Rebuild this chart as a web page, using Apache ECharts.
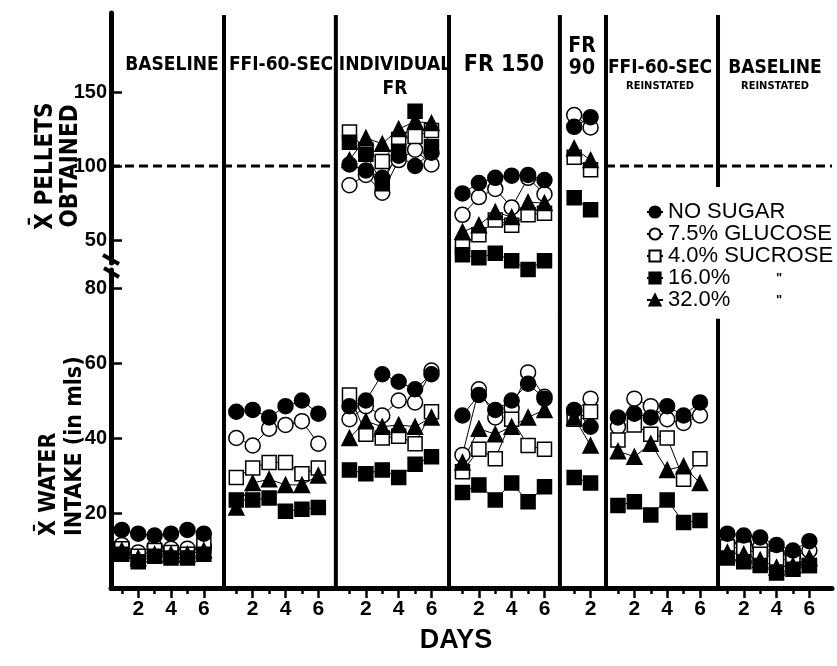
<!DOCTYPE html>
<html>
<head>
<meta charset="utf-8">
<script src="https://cdn.jsdelivr.net/npm/echarts@6/dist/echarts.min.js"></script>
<style>
html,body{margin:0;padding:0;background:#fff}
#main{width:837px;height:666px}
</style>
</head>
<body>
<div id="main"></div>
<script>
// ---- data ----
var seriesNames = ['NO SUGAR', '7.5% GLUCOSE', '4.0% SUCROSE', '16.0% SUCROSE', '32.0% SUCROSE'];
var phaseDays = [6, 6, 6, 6, 2, 6, 6];
var yTicksPellets = [50, 100, 150];
var yTicksWater = [20, 40, 60, 80];
var criterionPellets = 100;

// water intake (mls), one list per phase
var waterNoSugar = [[15.5,14.5,14,14.5,15.5,14.5],[47,47.5,45.5,48.5,50,46.5],[48.5,50,57,55,53,57],[46,51.5,47.5,50,54.5,50.5],[47.5,43],[45.5,46.5,45.5,48.5,46,49.5],[14.5,14,13.5,11.5,10,12.5]];
var waterGlucose = [[11.5,9.5,11,10.5,10.5,11],[40,38,42.5,43.5,44.5,38.5],[45,48.5,46,50,49.5,58],[35.5,53,45.5,48,57.5,51],[47,50.5],[43,50.5,48.5,45,44,46],[12,12,11,9.5,8.5,10]];
var waterSucrose4 = [[10.5,8.5,10,9.5,9,11.5],[29.5,32,33.5,33.5,30.5,32],[51.5,41,40,40.5,38.5,47],[31,37,34.5,45,38,37],[45,47],[39.5,43.5,41,40,29,34.5],[11,10.5,9,8,7,6]];
var waterSucrose16 = [[9,7,8.5,8,8,9],[23.5,23.5,24,20.5,21,21.5],[31.5,30.5,31.5,29.5,33,35],[25.5,27.5,23.5,28,23,27],[29.5,28],[22,23,19.5,23.5,17.5,18],[8,7,6,4,5,6]];
var waterSucrose32 = [[10,8,9,9,9,10],[21.5,28,29,27.5,27.5,30],[40,44.5,43,43.5,43,45.5],[33.5,42.5,41,43,45.5,47.5],[45.5,38],[36.5,35,38.5,31.5,32.5,28],[9.5,9,7.5,5.5,6,8]];

// pellets obtained, only the FR phases
var pelletsNoSugar = [null,null,[101,97,92,107,100,109],[81.5,88.5,92,93.5,94,90.5],[126.5,133],null,null];
var pelletsGlucose = [null,null,[87,94,82,104,111,101],[67,79,84.5,72,92,81],[134.5,126],null,null];
var pelletsSucrose4 = [null,null,[123,111,103,118,120,124],[45.5,53.5,63.5,60,67,68],[106,97.5],null,null];
var pelletsSucrose16 = [null,null,[116,108,88,110,137,113],[40,38,41,36,30,36],[78.5,70.5],null,null];
var pelletsSucrose32 = [null,null,[104,119,115,125,130,129],[55.5,60,69,65.5,75.5,75],[112,104],null,null];

// ---- layout (day units along x) ----
var phaseStart = [0, 6.98, 13.88, 20.77, 27.58, 30.25, 36.92];
var phaseEdge = [7.23, 14.05, 20.95, 27.71, 30.52, 37.35];
var X_MIN = 0.34, X_MAX = 44.3;
var legendGap = [0.47, 0.70];

var FONT = 'Liberation Sans, Arial, sans-serif';
var NARROW = 'Liberation Sans Narrow, DejaVu Sans Condensed, Liberation Sans, sans-serif';

function buildSeriesData(list){
    var out = [];
    for (var p = 0; p < list.length; p++) {
        if (!list[p]) continue;
        for (var d = 0; d < list[p].length; d++) {
            out.push([phaseStart[p] + d + 1, list[p][d]]);
        }
        out.push([phaseStart[p] + 7, null]);   // break line between phases
    }
    return out;
}

var evenTicks = [], oddTicks = [];
for (var p = 0; p < phaseDays.length; p++) {
    for (var d = 1; d <= phaseDays[p]; d++) {
        (d % 2 == 0 ? evenTicks : oddTicks).push(phaseStart[p] + d);
    }
}
function dayOf(v){
    for (var p = phaseStart.length - 1; p >= 0; p--) {
        if (v > phaseStart[p]) return Math.round(v - phaseStart[p]);
    }
    return '';
}

var styles = [
    {symbol:'circle', size:15, color:'#000'},
    {symbol:'circle', size:15, color:'#fff'},
    {symbol:'rect', size:14, color:'#fff'},
    {symbol:'rect', size:14, color:'#000'},
    {symbol:'triangle', size:15, color:'#000'}
];
var water = [waterNoSugar, waterGlucose, waterSucrose4, waterSucrose16, waterSucrose32];
var pellets = [pelletsNoSugar, pelletsGlucose, pelletsSucrose4, pelletsSucrose16, pelletsSucrose32];
var drawOrder = [1, 2, 4, 3, 0];

var series = [];
drawOrder.forEach(function(i){
    [[pellets[i], 0], [water[i], 1]].forEach(function(s){
        series.push({
            name: seriesNames[i],
            type: 'line',
            xAxisIndex: s[1], yAxisIndex: s[1],
            data: buildSeriesData(s[0]),
            symbol: styles[i].symbol,
            symbolSize: styles[i].size,
            clip: false,
            animation: false,
            lineStyle: {color:'#000', width:1},
            itemStyle: {color: styles[i].color, borderColor:'#000', borderWidth:1.5, opacity:1}
        });
    });
});

// criterion line (100 pellets)
series.push({
    type:'line', xAxisIndex:0, yAxisIndex:0, silent:true, symbol:'none', animation:false,
    lineStyle:{color:'#000', width:3, type:[9,5]},
    data:[[X_MIN, criterionPellets],[phaseEdge[1], criterionPellets],[20, null],[phaseEdge[4], criterionPellets],[X_MAX, criterionPellets]]
});
// phase separators
var sepData = [];
phaseEdge.forEach(function(x, i){
    if (i == 5) {
        sepData.push([x, 0], [x, legendGap[0]], [x, null], [x, legendGap[1]], [x, 1], [x, null]);
    } else {
        sepData.push([x, 0], [x, 1], [x, null]);
    }
});
series.push({
    type:'line', xAxisIndex:3, yAxisIndex:2, silent:true, symbol:'none', animation:false,
    lineStyle:{color:'#000', width:4}, data: sepData
});

var titles = [
    ['BASELINE', 172, 65, 19], ['FFI-60-SEC', 281, 65, 19], ['INDIVIDUAL', 395, 65, 19], ['FR', 395, 89, 19],
    ['FR 150', 504, 65, 23], ['FR', 582, 47, 21], ['90', 582, 69, 21],
    ['FFI-60-SEC', 660, 68, 19], ['REINSTATED', 660, 86, 11], ['BASELINE', 775, 68, 19], ['REINSTATED', 775, 86, 11]
];
var graphic = titles.map(function(t){
    return {type:'text', x:t[1], y:t[2], style:{text:t[0], font:'bold ' + t[3] + 'px ' + NARROW, fill:'#000', textAlign:'center', textVerticalAlign:'middle'}};
});
graphic.push(
    {type:'text', x:58, y:166, rotation:Math.PI/2, style:{text:'X\u0304 PELLETS\nOBTAINED', font:'bold 24px ' + NARROW, fill:'#000', textAlign:'center', textVerticalAlign:'middle', lineHeight:25}},
    {type:'text', x:62, y:536, rotation:Math.PI/2, style:{text:'X\u0304 WATER\nINTAKE (in mls)', font:'bold 23px ' + NARROW, fill:'#000', textAlign:'left', textVerticalAlign:'middle', lineHeight:26}},
    {type:'text', x:456, y:641, style:{text:'DAYS', font:'bold 27px ' + FONT, fill:'#000', textAlign:'center', textVerticalAlign:'middle'}},
    {type:'line', shape:{x1:103, y1:255, x2:119, y2:264}, style:{stroke:'#000', lineWidth:4}},
    {type:'line', shape:{x1:104, y1:268, x2:119, y2:277}, style:{stroke:'#000', lineWidth:4}}
);

var axisBlack = {lineStyle:{color:'#000', width:5}, onZero:false};
var labelStyle = {color:'#000', fontFamily:FONT, fontSize:20, fontWeight:'bold'};

var myChart = echarts.init(document.getElementById('main'));
var option = {
    backgroundColor:'#fff',
    animation:false,
    grid:[
        {left:111, right:5, top:13, height:250},
        {left:111, right:5, top:270, bottom:78},
        {left:111, right:5, top:15, bottom:78}
    ],
    legend:{
        data: seriesNames,
        orient:'vertical', left:641, top:196, itemGap:0, itemWidth:16, itemHeight:14,
        textStyle:{color:'#000', fontFamily:FONT, fontSize:22,
            rich:{n:{fontSize:22, fontFamily:FONT}, s:{fontSize:22, fontFamily:FONT, width:108}, d:{fontSize:13, fontFamily:FONT, fontWeight:'bold'}}},
        formatter:function(name){
            var i = seriesNames.indexOf(name);
            return i < 3 ? '{n|' + name + '}' : '{s|' + name.split(' ')[0] + '}{d|"}';
        }
    },
    xAxis:[
        {gridIndex:0, type:'value', min:X_MIN, max:X_MAX, show:false},
        {gridIndex:1, type:'value', min:X_MIN, max:X_MAX, position:'bottom',
            axisLine:axisBlack, splitLine:{show:false},
            axisTick:{customValues:evenTicks, length:10, lineStyle:{color:'#000', width:2.5}},
            axisLabel:{customValues:evenTicks, margin:11, formatter:dayOf, color:'#000', fontFamily:FONT, fontSize:21, fontWeight:'bold'}},
        {gridIndex:1, type:'value', min:X_MIN, max:X_MAX, position:'bottom',
            axisLine:{show:false}, splitLine:{show:false}, axisLabel:{show:false},
            axisTick:{customValues:oddTicks, length:6, lineStyle:{color:'#000', width:2.5}}},
        {gridIndex:2, type:'value', min:X_MIN, max:X_MAX, show:false}
    ],
    yAxis:[
        {gridIndex:0, type:'value', min:34.46, max:203.4, axisLine:axisBlack, splitLine:{show:false},
            axisTick:{inside:true, customValues:yTicksPellets, length:11, lineStyle:{color:'#000', width:2.5}},
            axisLabel:Object.assign({customValues:yTicksPellets, margin:4}, labelStyle)},
        {gridIndex:1, type:'value', min:0, max:84.8, axisLine:axisBlack, splitLine:{show:false},
            axisTick:{inside:true, customValues:yTicksWater, length:11, lineStyle:{color:'#000', width:2.5}},
            axisLabel:Object.assign({customValues:yTicksWater, margin:4}, labelStyle)},
        {gridIndex:2, type:'value', min:0, max:1, show:false}
    ],
    graphic: graphic,
    series: series
};
myChart.setOption(option);
</script>
</body>
</html>
